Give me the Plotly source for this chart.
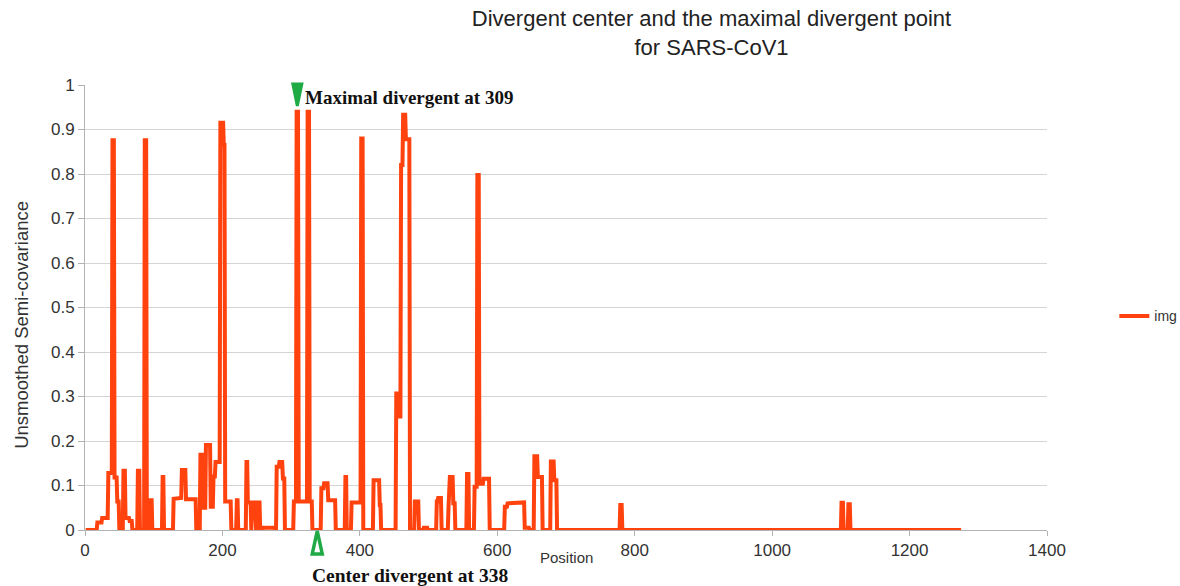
import plotly.graph_objects as go

# ---- data ----
seq_length = 1275
seg_start = [18, 25, 34, 40, 43, 47, 56, 59, 65, 77, 87, 95, 113, 129, 134, 141, 147, 168, 173, 176,
             183, 187, 190, 197, 202, 204, 221, 235, 237, 243, 250, 259, 279, 283, 288, 304, 308, 311,
             324, 327, 344, 348, 354, 379, 388, 402, 420, 429, 453, 456, 460, 463, 467, 480, 493, 512,
             514, 529, 530, 536, 556, 567, 571, 574, 580, 611, 615, 621, 640, 654, 659, 678, 683, 779,
             1101, 1111]
seg_end = [24, 33, 39, 42, 46, 49, 58, 64, 68, 79, 89, 97, 114, 133, 140, 146, 161, 172, 175, 182,
           186, 189, 196, 201, 203, 212, 222, 236, 241, 248, 254, 276, 282, 287, 290, 307, 310, 323,
           326, 330, 347, 353, 364, 380, 401, 404, 428, 430, 455, 459, 462, 466, 472, 485, 498, 513,
           518, 529, 535, 538, 558, 570, 573, 579, 588, 614, 620, 639, 646, 658, 665, 682, 686, 781,
           1103, 1113]
seg_value = [0.017, 0.027, 0.128, 0.876, 0.118, 0.064, 0.133, 0.027, 0.02, 0.133, 0.876, 0.067, 0.119,
             0.07, 0.072, 0.135, 0.069, 0.169, 0.05, 0.191, 0.052, 0.12, 0.153, 0.915, 0.865, 0.064,
             0.067, 0.153, 0.062, 0.062, 0.062, 0.005, 0.142, 0.153, 0.116, 0.064, 0.94, 0.064, 0.94,
             0.064, 0.094, 0.105, 0.067, 0.119, 0.062, 0.88, 0.112, 0.056, 0.307, 0.255, 0.82, 0.933,
             0.878, 0.064, 0.005, 0.064, 0.072, 0.05, 0.119, 0.06, 0.126, 0.097, 0.798, 0.104, 0.115,
             0.052, 0.06, 0.062, 0.005, 0.166, 0.119, 0.154, 0.112, 0.056, 0.061, 0.058]

max_pos = 309
center_pos = 338
x_ticks = [0, 200, 400, 600, 800, 1000, 1200, 1400]
y_ticks = [0, 0.1, 0.2, 0.3, 0.4, 0.5, 0.6, 0.7, 0.8, 0.9, 1]

# expand the segments into the per-position series
positions = list(range(1, seq_length + 1))
values = [0.0] * seq_length
for s, e, v in zip(seg_start, seg_end, seg_value):
    for p in range(s, e + 1):
        values[p - 1] = v

LINE = "#ff420e"
GREEN = "#1faa46"

fig = go.Figure()
fig.add_trace(go.Scatter(x=positions, y=values, mode="lines", name="img",
                         line=dict(color=LINE, width=4)))

# triangular markers (pixel-sized shapes anchored at the marked positions)
fig.add_shape(type="path", xref="x", yref="paper", xsizemode="pixel", ysizemode="pixel",
              xanchor=max_pos, yanchor=1.0, path="M -4.5,1 L 4.5,1 L 0,-21 Z",
              line=dict(color=GREEN, width=3), fillcolor=GREEN, layer="above")
fig.add_shape(type="path", xref="x", yref="paper", xsizemode="pixel", ysizemode="pixel",
              xanchor=center_pos, yanchor=0.0, path="M 0,-1 L -5,-24 L 5,-24 Z",
              line=dict(color=GREEN, width=3.5), fillcolor="white", layer="above")

fig.add_annotation(x=max_pos, y=0.971, xref="x", yref="paper", xanchor="left", yanchor="middle",
                   xshift=6, showarrow=False, text="<b>Maximal divergent at %d</b>" % max_pos,
                   font=dict(family="Liberation Serif", size=19, color="#111"))
fig.add_annotation(x=center_pos, y=-0.103, xref="x", yref="paper", xanchor="left", yanchor="middle",
                   xshift=-7, showarrow=False, text="<b>Center divergent at %d</b>" % center_pos,
                   font=dict(family="Liberation Serif", size=19.5, color="#111"))
fig.add_annotation(x=0.5, y=-0.061, xref="paper", yref="paper", showarrow=False,
                   xanchor="center", yanchor="middle",
                   text="Position", font=dict(family="Liberation Sans", size=15, color="#333"))
fig.add_annotation(x=-0.066, y=0.46, xref="paper", yref="paper", showarrow=False,
                   textangle=-90, xanchor="center", yanchor="middle",
                   text="Unsmoothed Semi-covariance",
                   font=dict(family="Liberation Sans", size=18.5, color="#333"))

fig.update_layout(
    width=1180, height=586,
    margin=dict(l=85, r=133, t=85, b=56, autoexpand=False),
    paper_bgcolor="white", plot_bgcolor="white",
    title=dict(text="Divergent center and the maximal divergent point<br>for SARS-CoV1",
               x=0.603, xanchor="center", y=0.955, yanchor="top",
               font=dict(family="Liberation Sans", size=22, color="#222")),
    font=dict(family="Liberation Sans", color="#333"),
    legend=dict(x=1.07, y=0.48, xanchor="left", yanchor="middle",
                font=dict(family="Liberation Sans", size=14, color="#333"),
                bgcolor="rgba(0,0,0,0)"),
    showlegend=True,
)
fig.update_xaxes(range=[0, 1400], tickvals=x_ticks, showgrid=False, zeroline=False,
                 automargin=False,
                 showline=True, linecolor="#b3b3b3", linewidth=1,
                 ticks="outside", ticklen=5, tickcolor="#b3b3b3",
                 tickfont=dict(size=17, color="#333"))
fig.update_yaxes(range=[0, 1], tickvals=y_ticks, ticktext=[("%g" % v) for v in y_ticks],
                 automargin=False,
                 showgrid=True, gridcolor="#d4d4d4", gridwidth=1, zeroline=False,
                 showline=True, linecolor="#b3b3b3", linewidth=1,
                 ticks="outside", ticklen=6, tickcolor="#b3b3b3",
                 tickfont=dict(size=17, color="#333"))

fig.write_html("out.html", config={"displayModeBar": False},
               post_script="document.body.style.margin='0px';")
